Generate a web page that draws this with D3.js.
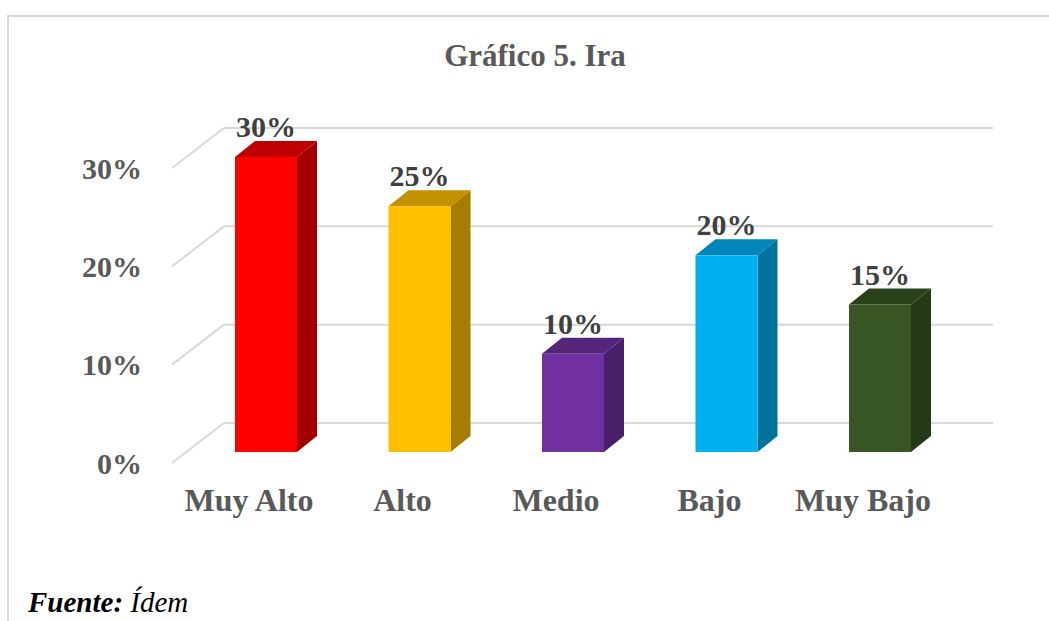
<!DOCTYPE html>
<html>
<head>
<meta charset="utf-8">
<script src="https://cdnjs.cloudflare.com/ajax/libs/d3/7.8.5/d3.min.js"></script>
<style>
  body { margin: 0; background: #ffffff; }
  svg { display: block; }
</style>
</head>
<body>
<script>
// data
var categories = ["Muy Alto", "Alto", "Medio", "Bajo", "Muy Bajo"];
var values = [30, 25, 10, 20, 15];
var yTicks = [0, 10, 20, 30];
var title = "Gráfico 5. Ira";

// colors: front, top, side
var frontColors = ["#ff0000", "#ffc000", "#7030a0", "#00b0f0", "#375623"];
var topColors = ["#c00000", "#c29200", "#552579", "#0086b8", "#2a421a"];
var sideColors = ["#a30000", "#a67d00", "#481f68", "#00729c", "#243916"];

var w = 1049;
var h = 621;

// 3d offsets
var depthX = 20, depthY = -16;      // bar side depth
var wallX = -52, wallY = 40;        // floor depth (back wall -> front)
var wallShift = -29;                // back wall relative to bar front
var barW = 62;

var svg = d3.select("body")
            .append("svg")
            .attr("width", w)
            .attr("height", h);

svg.append("rect")
   .attr("width", w)
   .attr("height", h)
   .attr("fill", "#ffffff");

// chart frame
svg.append("rect")
   .attr("x", 8)
   .attr("y", 16)
   .attr("width", w + 20)
   .attr("height", h + 20)
   .attr("fill", "none")
   .attr("stroke", "#d9d9d9")
   .attr("stroke-width", 2);

var yScale = d3.scaleLinear()
               .domain([0, 30])
               .range([452, 157]);

var xScale = d3.scaleBand()
               .domain(categories)
               .range([189.25, 956.75]);

function cx(d) {
  return xScale(d) + xScale.bandwidth() / 2;
}

// gridlines: back wall + floor diagonal
var grid = svg.append("g");
var backLeft = 224, backRight = 993;

grid.selectAll(".gridBack")
    .data(yTicks)
    .enter()
    .append("line")
    .attr("x1", backLeft)
    .attr("x2", backRight)
    .attr("y1", function(d) { return yScale(d) + wallShift; })
    .attr("y2", function(d) { return yScale(d) + wallShift; })
    .attr("stroke", "#d9d9d9")
    .attr("stroke-width", 2);

grid.selectAll(".gridSide")
    .data(yTicks)
    .enter()
    .append("line")
    .attr("x1", backLeft)
    .attr("x2", backLeft + wallX)
    .attr("y1", function(d) { return yScale(d) + wallShift; })
    .attr("y2", function(d) { return yScale(d) + wallShift + wallY; })
    .attr("stroke", "#d9d9d9")
    .attr("stroke-width", 2);

// y tick labels
svg.selectAll(".ytick")
   .data(yTicks)
   .enter()
   .append("text")
   .attr("x", 142)
   .attr("y", function(d) { return yScale(d) + wallShift + wallY; })
   .attr("dy", "0.35em")
   .attr("text-anchor", "end")
   .attr("font-family", "'Liberation Serif', 'Times New Roman', serif")
   .attr("font-weight", "bold")
   .attr("font-size", "30px")
   .attr("fill", "#595959")
   .text(function(d) { return d + "%"; });

// bars
var bars = svg.selectAll(".bar")
              .data(values)
              .enter()
              .append("g");

function pts(arr) {
  return arr.map(function(p) { return p.join(","); }).join(" ");
}

bars.append("polygon")
    .attr("points", function(d, i) {
      var x0 = cx(categories[i]) - barW / 2, x1 = x0 + barW;
      var y0 = yScale(0), y1 = yScale(d);
      return pts([[x1, y1], [x1 + depthX, y1 + depthY], [x1 + depthX, y0 + depthY], [x1, y0]]);
    })
    .attr("fill", function(d, i) { return sideColors[i]; });

bars.append("polygon")
    .attr("points", function(d, i) {
      var x0 = cx(categories[i]) - barW / 2, x1 = x0 + barW;
      var y1 = yScale(d);
      return pts([[x0, y1], [x1, y1], [x1 + depthX, y1 + depthY], [x0 + depthX, y1 + depthY]]);
    })
    .attr("fill", function(d, i) { return topColors[i]; });

bars.append("rect")
    .attr("x", function(d, i) { return cx(categories[i]) - barW / 2; })
    .attr("y", function(d) { return yScale(d); })
    .attr("width", barW)
    .attr("height", function(d) { return yScale(0) - yScale(d); })
    .attr("fill", function(d, i) { return frontColors[i]; });

// value labels
svg.selectAll(".vlabel")
   .data(values)
   .enter()
   .append("text")
   .attr("x", function(d, i) { return cx(categories[i]); })
   .attr("y", function(d) { return yScale(d) + depthY - 4; })
   .attr("text-anchor", "middle")
   .attr("font-family", "'Liberation Serif', 'Times New Roman', serif")
   .attr("font-weight", "bold")
   .attr("font-size", "30px")
   .attr("fill", "#404040")
   .text(function(d) { return d + "%"; });

// category labels
svg.selectAll(".xlabel")
   .data(categories)
   .enter()
   .append("text")
   .attr("x", function(d) { return cx(d) - 17; })
   .attr("y", 511)
   .attr("text-anchor", "middle")
   .attr("font-family", "'Liberation Serif', 'Times New Roman', serif")
   .attr("font-weight", "bold")
   .attr("font-size", "32px")
   .attr("fill", "#595959")
   .text(function(d) { return d; });

// chart title
svg.append("text")
   .attr("x", 535)
   .attr("y", 66)
   .attr("text-anchor", "middle")
   .attr("font-family", "'Liberation Serif', 'Times New Roman', serif")
   .attr("font-weight", "bold")
   .attr("font-size", "31px")
   .attr("fill", "#595959")
   .text(title);

// source note
var note = svg.append("text")
              .attr("x", 28)
              .attr("y", 612)
              .attr("font-family", "'Liberation Serif', 'Times New Roman', serif")
              .attr("font-size", "29px")
              .attr("font-style", "italic")
              .attr("fill", "#000000");

note.append("tspan")
    .attr("font-weight", "bold")
    .text("Fuente:");

note.append("tspan")
    .text(" Ídem");
</script>
</body>
</html>
